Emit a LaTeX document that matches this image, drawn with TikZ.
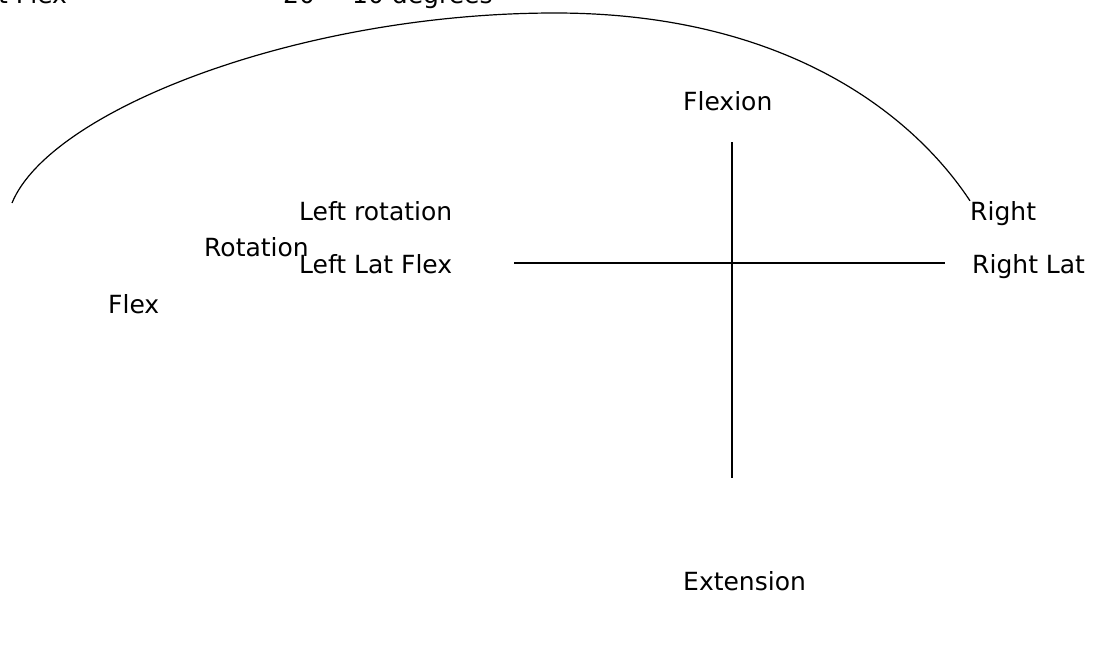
\documentclass[tikz,border=0pt]{standalone}
\usepackage{fontspec}
\setmainfont{DejaVu Sans}
\usepackage{tikz}
\usetikzlibrary{positioning}

\begin{document}
\begin{tikzpicture}[
    x=1pt, y=-1pt,
    every node/.style={inner sep=0pt, anchor=base west, font=\fontsize{25}{30}\selectfont},
    axis/.style={line width=1.2pt},
    swing/.style={line width=1.2pt}
]
\useasboundingbox (0,0) rectangle (1096,648);
\clip (0,0) rectangle (1096,648);

% Nodes
\node (latflex) at (-2,3) {t Flex};
\node (twenty) at (283,3) {20};
\node (degrees) at (352,3) {10 degrees};
\node (flexion) at (683,110) {Flexion};
\node (leftrot) at (299,220) {Left rotation};
\node (right) at (970,220) {Right};
\node (rotation) at (204,256) {Rotation};
\node (leftlat) at (299,273) {Left Lat Flex};
\node (rightlat) at (972,273) {Right Lat};
\node (flex) at (108,313) {Flex};
\node (extension) at (683,590) {Extension};

% Axes
\coordinate (top) at (732,142);
\coordinate (bottom) at (732,478);
\coordinate (left) at (514,263);
\coordinate (rightend) at (945,263);
\draw[axis] (top) -- (bottom);
\draw[axis] (left) -- (rightend);

% Range arc
\coordinate (arcstart) at (12,203);
\draw[swing] (arcstart) .. controls (50,110) and (300,13) .. (555,13)
    .. controls (780,13) and (910,110) .. (right.north west);

\end{tikzpicture}
\end{document}
